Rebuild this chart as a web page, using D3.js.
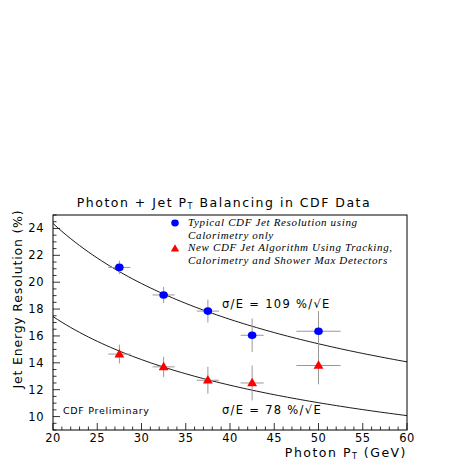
<!DOCTYPE html>
<html>
<head>
<meta charset="utf-8">
<script src="https://cdn.jsdelivr.net/npm/d3@7"></script>
<style>
  body { margin: 0; background: #fff; }
  text { font-family: "DejaVu Sans", sans-serif; fill: #000; }
  .leg { font-family: "Liberation Serif", serif; font-style: italic; font-size: 11px; letter-spacing: 0.65px; }
</style>
</head>
<body>
<script>
var width = 463, height = 463;

// bin centres and horizontal errors (GeV)
var ptBins = [27.5, 32.5, 37.5, 42.5, 50];
var ptErrors = [1.25, 1.25, 1.25, 1.3, 2.5];
// typical CDF jet resolution (calorimetry only)
var calValues = [21.1, 19.05, 17.85, 16.05, 16.35];
var calErrors = [0.5, 0.6, 0.85, 1.25, 1.5];
// new algorithm (tracking + calorimetry + shower max)
var newValues = [14.65, 13.7, 12.7, 12.5, 13.8];
var newErrors = [0.7, 0.75, 1.0, 1.3, 1.4];
// fit coefficients, sigma/E = a %/sqrt(E)
var fitCoef = [109, 78];
var xTicks = [20, 25, 30, 35, 40, 45, 50, 55, 60];
var yTicks = [10, 12, 14, 16, 18, 20, 22, 24];

var x = d3.scaleLinear().domain([20, 60]).range([53, 407]);
var y = d3.scaleLinear().domain([9, 25]).range([430, 215]);

var svg = d3.select("body").append("svg")
    .attr("width", width)
    .attr("height", height);

// title
svg.append("text")
    .attr("x", 224).attr("y", 207)
    .attr("text-anchor", "middle")
    .style("font-size", "12.5px")
    .style("letter-spacing", "1.5px")
    .html('Photon + Jet P<tspan font-size="8" dy="2">T</tspan><tspan dy="-2"> Balancing in CDF Data</tspan>');

// ticks, inside the frame
var g = svg.append("g");
var xMinor = d3.range(20, 60.01, 1);
var yMinor = d3.range(9, 25.01, 0.5);
g.selectAll(".xt").data(xMinor).enter().append("line")
    .attr("x1", d => x(d)).attr("x2", d => x(d))
    .attr("y1", y(9)).attr("y2", d => y(9) - (d % 5 === 0 ? 7 : 3.5))
    .attr("stroke", "#000").attr("stroke-width", 0.8);
g.selectAll(".yt").data(yMinor).enter().append("line")
    .attr("y1", d => y(d)).attr("y2", d => y(d))
    .attr("x1", x(20)).attr("x2", d => x(20) + (d % 2 === 0 ? 7 : 3.5))
    .attr("stroke", "#000").attr("stroke-width", 0.8);

g.selectAll(".xl").data(xTicks).enter().append("text")
    .attr("x", d => x(d)).attr("y", 442)
    .attr("text-anchor", "middle")
    .style("font-size", "11.5px")
    .style("letter-spacing", "0.5px")
    .text(d => d);
g.selectAll(".yl").data(yTicks).enter().append("text")
    .attr("x", 44).attr("y", d => y(d) + 4)
    .attr("text-anchor", "end")
    .style("font-size", "11.5px")
    .style("letter-spacing", "0.5px")
    .text(d => d);

// axis titles
svg.append("text")
    .attr("x", 407).attr("y", 457)
    .attr("text-anchor", "end")
    .style("font-size", "12.5px")
    .style("letter-spacing", "1.5px")
    .html('Photon P<tspan font-size="8" dy="2">T</tspan><tspan dy="-2"> (GeV)</tspan>');
svg.append("text")
    .attr("transform", "translate(22,299) rotate(-90)")
    .attr("text-anchor", "middle")
    .style("font-size", "12.5px")
    .style("letter-spacing", "0.8px")
    .text("Jet Energy Resolution (%)");

// fit curves
var line = d3.line().x(d => x(d[0])).y(d => y(d[1]));
fitCoef.forEach(function(a) {
  var pts = d3.range(20, 60.01, 0.5).map(e => [e, a / Math.sqrt(e)]);
  svg.append("path").attr("d", line(pts))
      .attr("fill", "none").attr("stroke", "#000").attr("stroke-width", 0.9);
});

// error bars
function errBars(vals, errs) {
  var eg = svg.append("g").attr("stroke", "#999").attr("stroke-width", 1);
  ptBins.forEach(function(p, i) {
    eg.append("line")
        .attr("x1", x(p - ptErrors[i])).attr("x2", x(p + ptErrors[i]))
        .attr("y1", y(vals[i])).attr("y2", y(vals[i]));
    eg.append("line")
        .attr("x1", x(p)).attr("x2", x(p))
        .attr("y1", y(vals[i] - errs[i])).attr("y2", y(vals[i] + errs[i]));
  });
}
errBars(calValues, calErrors);
errBars(newValues, newErrors);

var tri = d3.symbol().type(d3.symbolTriangle).size(42);
svg.selectAll(".cal").data(calValues).enter().append("ellipse")
    .attr("cx", (d, i) => x(ptBins[i])).attr("cy", d => y(d))
    .attr("rx", 4.3).attr("ry", 3.8).attr("fill", "#0000ff");
svg.selectAll(".new").data(newValues).enter().append("path")
    .attr("d", tri)
    .attr("transform", (d, i) => "translate(" + x(ptBins[i]) + "," + (y(d) + 0.5) + ")")
    .attr("fill", "#ff0000");

// frame
svg.append("rect")
    .attr("x", x(20)).attr("y", y(25))
    .attr("width", x(60) - x(20)).attr("height", y(9) - y(25))
    .attr("fill", "none").attr("stroke", "#000").attr("stroke-width", 1);

// legend
svg.append("ellipse").attr("cx", 175).attr("cy", 223).attr("rx", 3.8).attr("ry", 3.4).attr("fill", "#0000ff");
svg.append("path").attr("d", d3.symbol().type(d3.symbolTriangle).size(30))
    .attr("transform", "translate(175,249)").attr("fill", "#ff0000");
var legLines = [
  ["Typical CDF Jet Resolution using", 226],
  ["Calorimetry only", 238.5],
  ["New CDF Jet Algorithm Using Tracking,", 251],
  ["Calorimetry and Shower Max Detectors", 263.5]
];
svg.selectAll(".leg").data(legLines).enter().append("text")
    .attr("class", "leg")
    .attr("x", 188).attr("y", d => d[1])
    .text(d => d[0]);

// annotations
svg.append("text").attr("x", 222).attr("y", 308)
    .style("font-size", "11.5px").style("letter-spacing", "1.3px")
    .text("\u03c3/E = " + fitCoef[0] + " %/\u221aE");
svg.append("text").attr("x", 222).attr("y", 414)
    .style("font-size", "11.5px").style("letter-spacing", "1.3px")
    .text("\u03c3/E = " + fitCoef[1] + " %/\u221aE");
svg.append("text").attr("x", 63).attr("y", 414)
    .style("font-size", "9.5px").style("letter-spacing", "0.7px")
    .text("CDF Preliminary");
</script>
</body>
</html>
